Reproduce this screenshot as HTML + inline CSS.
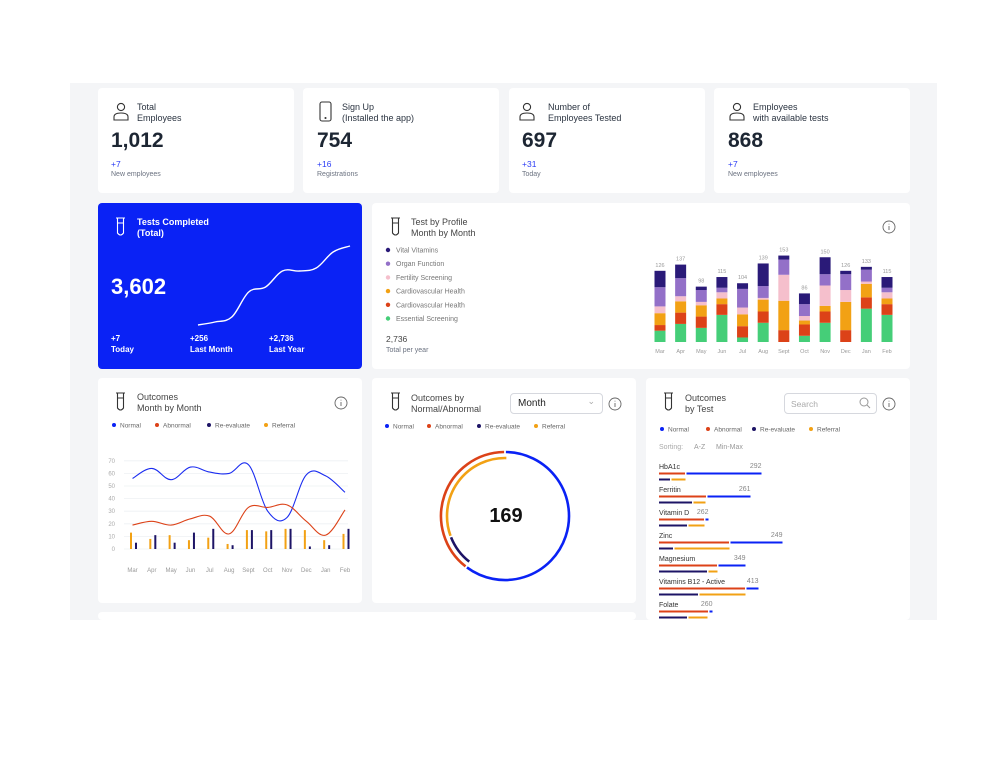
<!DOCTYPE html>
<html><head><meta charset="utf-8">
<style>
*{box-sizing:border-box;margin:0;padding:0}
body{width:1000px;height:758px;background:#fff;font-family:"Liberation Sans",sans-serif;position:relative;overflow:hidden;color:#2a3340}
#panel{position:absolute;left:70px;top:83px;width:867px;height:537px;background:#f4f5f7;overflow:hidden}
.card{position:absolute;background:#fff;border-radius:4px}
.abs{position:absolute}
.t{position:absolute;font-size:9px;line-height:10.5px;color:#2a3340;white-space:nowrap}
.big{position:absolute;font-size:21px;font-weight:bold;color:#1d2633}
.plus{position:absolute;font-size:8.5px;color:#2b3cf5}
.sub{position:absolute;font-size:7px;color:#6b7280}
svg{position:absolute;left:0;top:0;overflow:visible}
#main{z-index:5}
</style></head><body>
<div id="panel"></div>

<!-- top cards -->
<div class="card" style="left:98px;top:88px;width:196px;height:105px"></div>
<div class="card" style="left:303px;top:88px;width:196px;height:105px"></div>
<div class="card" style="left:509px;top:88px;width:196px;height:105px"></div>
<div class="card" style="left:714px;top:88px;width:196px;height:105px"></div>
<div class="card" style="left:98px;top:203px;width:264px;height:166px;background:#0a22f5"></div>
<div class="card" style="left:372px;top:203px;width:538px;height:166px"></div>
<div class="card" style="left:98px;top:378px;width:264px;height:225px"></div>
<div class="card" style="left:372px;top:378px;width:264px;height:225px"></div>
<div class="card" style="left:646px;top:378px;width:264px;height:242px"></div>
<div class="card" style="left:98px;top:612px;width:538px;height:8px"></div>
<div class="abs" style="left:0;top:620px;width:1000px;height:138px;background:#fff"></div>

<!-- top card texts -->
<div class="t" style="left:137px;top:102px">Total<br>Employees</div>
<div class="big" style="left:111px;top:129px">1,012</div>
<div class="plus" style="left:111px;top:159px">+7</div>
<div class="sub" style="left:111px;top:171px">New employees</div>

<div class="t" style="left:342px;top:102px">Sign Up<br>(Installed the app)</div>
<div class="big" style="left:317px;top:129px">754</div>
<div class="plus" style="left:317px;top:159px">+16</div>
<div class="sub" style="left:317px;top:171px">Registrations</div>

<div class="t" style="left:548px;top:102px">Number of<br>Employees Tested</div>
<div class="big" style="left:522px;top:129px">697</div>
<div class="plus" style="left:522px;top:159px">+31</div>
<div class="sub" style="left:522px;top:171px">Today</div>

<div class="t" style="left:753px;top:102px">Employees<br>with available tests</div>
<div class="big" style="left:728px;top:129px">868</div>
<div class="plus" style="left:728px;top:159px">+7</div>
<div class="sub" style="left:728px;top:171px">New employees</div>

<!-- blue card -->
<div class="t" style="left:137px;top:217px;color:#fff;font-weight:bold">Tests Completed<br>(Total)</div>
<div class="big" style="left:111px;top:274px;color:#fff;font-size:22px">3,602</div>
<div class="t" style="left:111px;top:334px;color:#fff;font-weight:bold;font-size:8px">+7<br>Today</div>
<div class="t" style="left:190px;top:334px;color:#fff;font-weight:bold;font-size:8px">+256<br>Last Month</div>
<div class="t" style="left:269px;top:334px;color:#fff;font-weight:bold;font-size:8px">+2,736<br>Last Year</div>

<!-- profile card -->
<div class="t" style="left:411px;top:217px;color:#444">Test by Profile<br>Month by Month</div>
<div class="t" style="left:386px;top:334px;font-size:8.5px;color:#444">2,736</div>
<div class="sub" style="left:386px;top:347px">Total per year</div>

<!-- outcomes cards -->
<div class="t" style="left:137px;top:392px;color:#444">Outcomes<br>Month by Month</div>
<div class="t" style="left:411px;top:393px;color:#444">Outcomes by<br>Normal/Abnormal</div>
<div class="abs" style="left:510px;top:393px;width:93px;height:21px;border:1px solid #d6d8de;border-radius:4px;font-size:10px;padding:4px 7px;color:#222">Month<span style="position:absolute;right:7px;top:2px;color:#aaa;font-size:9px">&#8964;</span></div>
<div class="abs" style="left:482px;top:505px;width:48px;text-align:center;font-size:20px;font-weight:bold;color:#111">169</div>
<div class="t" style="left:685px;top:393px;color:#444">Outcomes<br>by Test</div>
<div class="abs" style="left:784px;top:393px;width:93px;height:21px;border:1px solid #d6d8de;border-radius:4px;font-size:8.5px;padding:5px 6px;color:#aaa">Search</div>
<div class="t" style="left:659px;top:443px;font-size:7px;color:#aaa">Sorting:</div>
<div class="t" style="left:694px;top:443px;font-size:7px;color:#999">A-Z</div>
<div class="t" style="left:716px;top:443px;font-size:7px;color:#999">Min-Max</div>

<svg id="main" width="1000" height="758" style="pointer-events:none"></svg>

<script>
// ---- data ----
const months=["Mar","Apr","May","Jun","Jul","Aug","Sept","Oct","Nov","Dec","Jan","Feb"];
const profileTotals=[126,137,98,115,104,139,153,86,150,126,133,115];
const essential=[20,32,25,48,8,34,0,11,34,0,59,48];
const cardioRed=[10,20,20,19,20,20,21,20,20,21,20,19];
const cardioOrange=[21,20,20,10,21,21,52,7,10,50,24,10];
const fertility=[12,9,6,11,12,3,46,8,36,21,4,11];
const organ=[34,32,21,8,33,21,27,21,20,28,21,8];
const vital=[29,24,6,19,10,40,7,19,30,6,5,19];
const profileNames=["Vital Vitamins","Organ Function","Fertility Screening","Cardiovascular Health","Cardiovascular Health","Essential Screening"];
const profileColors=["#2a1a78","#9370c8","#f5bfcc","#f2a114","#dc4218","#45ce78"];
const normalSeries=[56,64,55,65,61,60,67,30,25,59,58,45];
const abnormalSeries=[19,22,19,24,26,12,33,33,35,22,11,31];
const referralBars=[13,8,11,7,9,4,15,14,16,15,7,12];
const reevalBars=[5,11,5,13,16,3,15,15,16,2,3,16];
const yTicks=[0,10,20,30,40,50,60,70];
const cumulative=[0,3,8,33,38,54,54,57,73,79];
const donutOuterLabels=["Normal","Abnormal"];
const donutOuter=[102,67];
const donutInnerLabels=["Re-evaluate","Referral"];
const donutInner=[15,53];
const testNames=["HbA1c","Ferritin","Vitamin D","Zinc","Magnesium","Vitamins B12 - Active","Folate"];
const testValues=[292,261,262,249,349,413,260];
const testAbnormal=[26,47,45,70,58,86,49];
const testNormal=[75,43,3,52,27,12,3];
const testReeval=[11,33,28,14,48,39,28];
const testReferral=[14,12,16,55,9,46,19];

const NS="http://www.w3.org/2000/svg";
const svg=document.getElementById('main');
function el(tag,attrs,parent){const e=document.createElementNS(NS,tag);for(const k in attrs)e.setAttribute(k,attrs[k]);(parent||svg).appendChild(e);return e;}
function txt(x,y,s,attrs){const e=el('text',Object.assign({x:x,y:y,'font-family':'Liberation Sans, sans-serif'},attrs));e.textContent=s;return e;}

function smooth(pts){let s=`M${pts[0][0]} ${pts[0][1]}`;for(let i=0;i<pts.length-1;i++){const p0=pts[i-1]||pts[i],p1=pts[i],p2=pts[i+1],p3=pts[i+2]||p2;const t=0.18;
const c1=[p1[0]+(p2[0]-p0[0])*t,p1[1]+(p2[1]-p0[1])*t],c2=[p2[0]-(p3[0]-p1[0])*t,p2[1]-(p3[1]-p1[1])*t];s+=` C${c1[0].toFixed(1)} ${c1[1].toFixed(1)} ${c2[0].toFixed(1)} ${c2[1].toFixed(1)} ${p2[0].toFixed(1)} ${p2[1].toFixed(1)}`;}return s;}

// icons
function person(x,y,name){const g=el('g',{fill:'none',stroke:'#333','stroke-width':1.1});el('circle',{cx:x+8,cy:y+5,r:3.6},g);el('path',{d:`M${x+1} ${y+18} v-3 q0-4 7-4 q7 0 7 4 v3 z`},g);}
function tube(x,y,name,col){const g=el('g',{fill:'none',stroke:col||'#333','stroke-width':1.1});el('path',{d:`M${x} ${y} h9 M${x+1.5} ${y} v15 q3 4 6 0 v-15 M${x+1.5} ${y+5} h6`},g);}
function info(cx,cy,name){const g=el('g',{fill:'none',stroke:'#666','stroke-width':0.9});el('circle',{cx:cx,cy:cy,r:6},g);el('path',{d:`M${cx} ${cy-1} v4 M${cx} ${cy-3.3} v0.8`},g);}
person(113,102,'employees-icon');
(function(){const g=el('g',{fill:'none',stroke:'#333','stroke-width':1.1});el('rect',{x:320,y:102,width:11,height:19,rx:2},g);el('circle',{cx:325.5,cy:118,r:0.5},g);})();
person(519,102,'tested-icon');
person(729,102,'available-icon');
tube(116,218,'tests-completed-icon','#fff');
tube(391,218,'profile-icon');
tube(116,393,'outcomes-month-icon');
tube(391,393,'outcomes-normal-icon');
tube(664,393,'outcomes-test-icon');
info(889,227,'profile-info');info(341,403,'outcomes-month-info');info(615,404,'outcomes-normal-info');info(889,404,'outcomes-test-info');
(function(){const g=el('g',{fill:'none',stroke:'#999','stroke-width':1});el('circle',{cx:864,cy:402,r:4},g);el('path',{d:'M867 405 l3 3'},g);})();

// sparkline
const spX=i=>198+i*(152/(cumulative.length-1));
const spY=v=>325-v;
const sp=el('path',{d:smooth(cumulative.map((v,i)=>[spX(i),spY(v)])),fill:'none',stroke:'#fff','stroke-width':1.4});



// profile legend
profileNames.forEach((n,i)=>{const y=250+i*13.7;const c=el('circle',{cx:388,cy:y,r:2.2,fill:profileColors[i]});


const t=txt(396,y+2.5,n,{'font-size':7,fill:'#777'});

});

// stacked bars
const pbX=i=>660+i*(227/11);
const pbY=v=>342-v*0.565;
const stacks=[essential,cardioRed,cardioOrange,fertility,organ,vital];
const stackColors=["#45ce78","#dc4218","#f2a114","#f5bfcc","#9370c8","#2a1a78"];
months.forEach((m,i)=>{let acc=0;stacks.forEach((s,k)=>{const v=s[i];if(v>0){const r=el('rect',{x:pbX(i)-5.5,y:pbY(acc+v),width:11,height:pbY(acc)-pbY(acc+v),fill:stackColors[k]});

}acc+=v;});
const tl=txt(pbX(i),pbY(profileTotals[i])-4,String(profileTotals[i]),{'font-size':5.5,fill:'#999','text-anchor':'middle'});


const ml=txt(pbX(i),353,m,{'font-size':5.5,fill:'#999','text-anchor':'middle'});

});

// legends
function legend(items,xs,y,name){items.forEach((n,i)=>{const c=el('circle',{cx:xs[i],cy:y,r:2,fill:['#0a22f5','#dc4218','#1d1466','#f2a114'][i]});


const t=txt(xs[i]+6,y+2.3,n,{'font-size':6.5,fill:'#666'});

});}
const outcomeNames=["Normal","Abnormal","Re-evaluate","Referral"];
legend(outcomeNames,[114,157,209,266],425,'outcomes-month-legend');
legend(outcomeNames,[387,429,479,536],426,'outcomes-normal-legend');
legend(outcomeNames,[662,708,754,811],429,'outcomes-test-legend');

// line chart
const lx=i=>132.5+i*(212.5/11);
const ly=v=>549-v*1.26;
yTicks.forEach(v=>{const g=el('line',{x1:124,x2:348,y1:ly(v),y2:ly(v),stroke:'#eef0f3','stroke-width':0.8});


const t=txt(115,ly(v)+2,String(v),{'font-size':6,fill:'#aaa','text-anchor':'end'});

});
months.forEach((m,i)=>{const t=txt(lx(i),572,m,{'font-size':6,fill:'#999','text-anchor':'middle'});


const o=el('rect',{x:lx(i)-2.5,y:ly(referralBars[i]),width:2,height:ly(0)-ly(referralBars[i]),fill:'#f2a114'});


const n=el('rect',{x:lx(i)+2.5,y:ly(reevalBars[i]),width:2,height:ly(0)-ly(reevalBars[i]),fill:'#1d1466'});

});
const nl=el('path',{d:smooth(normalSeries.map((v,i)=>[lx(i),ly(v)])),fill:'none',stroke:'#1a2cf0','stroke-width':1.1});


const al=el('path',{d:smooth(abnormalSeries.map((v,i)=>[lx(i),ly(v)])),fill:'none',stroke:'#dc4218','stroke-width':1.1});



// donut
const cx=505,cy=516;
function arc(r,a0,a1){const p=a=>[cx+r*Math.sin(a*Math.PI/180),cy-r*Math.cos(a*Math.PI/180)];const s=p(a0),e=p(a1);return `M${s[0].toFixed(2)} ${s[1].toFixed(2)} A${r} ${r} 0 ${a1-a0>180?1:0} 1 ${e[0].toFixed(2)} ${e[1].toFixed(2)}`;}
const outerTot=donutOuter.reduce((a,b)=>a+b,0);let a=0;
donutOuter.forEach((v,i)=>{const sw=v/outerTot*360;const p=el('path',{d:arc(64,a+0.8,a+sw-0.8),fill:'none',stroke:['#0a22f5','#dc4218'][i],'stroke-width':2.6});

a+=sw;});
const innerStart=360*donutOuter[0]/outerTot;let b=innerStart;
donutInner.forEach((v,i)=>{const sw=v/outerTot*360;const p=el('path',{d:arc(58,b+0.8,b+sw-0.8),fill:'none',stroke:['#1d1466','#f2a114'][i],'stroke-width':2.6});

b+=sw;});

// tests list
testNames.forEach((n,i)=>{const y=467+i*23;const x0=659;
const t=txt(x0,y+2,n,{'font-size':7,fill:'#333'});


const r1=el('rect',{x:x0,y:y+5.5,width:testAbnormal[i],height:2,fill:'#dc4218'});


const r2=el('rect',{x:x0+testAbnormal[i]+1.5,y:y+5.5,width:testNormal[i],height:2,fill:'#0a22f5'});


const r3=el('rect',{x:x0,y:y+11.5,width:testReeval[i],height:2,fill:'#1d1466'});


const r4=el('rect',{x:x0+testReeval[i]+1.5,y:y+11.5,width:testReferral[i],height:2,fill:'#f2a114'});


const v=txt(x0+testAbnormal[i]+1.5+testNormal[i],y+1,String(testValues[i]),{'font-size':7,fill:'#888','text-anchor':'end'});

});
// clip below panel
const cover=el('rect',{x:0,y:620,width:1000,height:138,fill:'#fff'});


</script>
</body></html>
